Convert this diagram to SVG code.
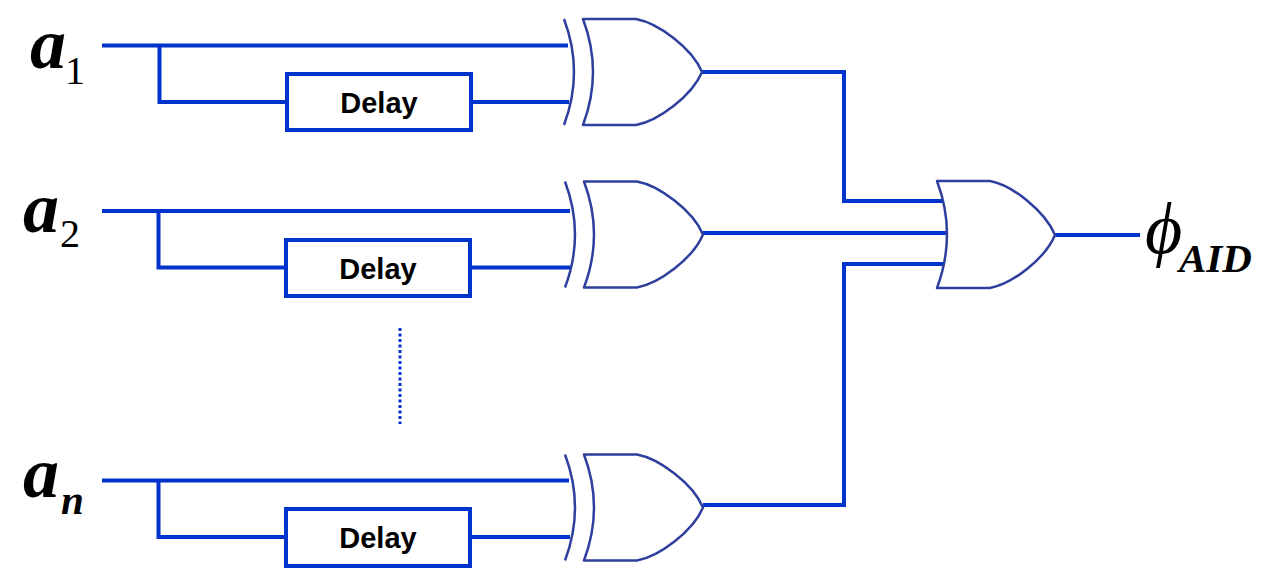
<svg xmlns="http://www.w3.org/2000/svg" width="1264" height="585" viewBox="0 0 1264 585">
<style>
.w{fill:none;stroke:#0033cc;stroke-width:4}
.g{fill:none;stroke:#2e3f9e;stroke-width:2.500;stroke-linejoin:round}
.b{fill:#fff;stroke:#0033cc;stroke-width:4}
.d{font:bold 29px "Liberation Sans",Arial,sans-serif;fill:#000;text-anchor:middle}
.a{font:italic bold 72px "Liberation Serif","Times New Roman",serif;fill:#000}
.s{font:40px "Liberation Serif","Times New Roman",serif;fill:#000}
.si{font:italic bold 41px "Liberation Serif","Times New Roman",serif;fill:#000}
</style>
<defs>
<path id="xor" class="g" d="M564 19Q584 72 564 125M583 19Q603 72 583 125H636C658 121 692 96 702 72C692 48 658 23 636 19Z"/>
</defs>
<g id="connectors">
<path class="w" d="M102 45.500H568M159.500 45.500V102H287M471 102H569"/>
<path class="w" d="M102 211H570M158.500 211V267.500H286M470 267.500H570"/>
<path class="w" d="M102 480.500H569M158.500 480.500V537H286M470 537H570"/>
<path class="w" d="M702 72H844V201H943M703 233H946M703 505H844V264H943M1055 235H1140"/>
<path fill="none" stroke="#0033cc" stroke-width="3" stroke-dasharray="3 2.500" d="M400 328V424"/>
</g>
<g id="input-a1"><text class="a" x="30" y="68">a</text><text class="s" x="65" y="84">1</text></g>
<g id="input-a2"><text class="a" x="23" y="232">a</text><text class="s" x="60" y="247">2</text></g>
<g id="input-an"><text class="a" x="23" y="497">a</text><text class="si" x="61" y="514">n</text></g>
<g id="delay-1"><rect class="b" x="287" y="74" width="184" height="56"/><text class="d" x="379" y="113">Delay</text></g>
<g id="delay-2"><rect class="b" x="286" y="240" width="184" height="56"/><text class="d" x="378" y="279">Delay</text></g>
<g id="delay-n"><rect class="b" x="286" y="509" width="184" height="57"/><text class="d" x="378" y="548">Delay</text></g>
<g id="xor-1"><use href="#xor"/></g>
<g id="xor-2"><use href="#xor" transform="translate(1 162.500)"/></g>
<g id="xor-n"><use href="#xor" transform="translate(1 435.500)"/></g>
<g id="or-out"><path class="g" d="M937 181Q957 234 937 288H990C1012 284 1045 259 1055 235C1045 211 1012 185 990 181Z"/></g>
<g id="output"><text x="1145" y="253" font-family="Liberation Serif,Times New Roman,serif" font-style="italic" font-size="72" fill="#000">ϕ</text><text class="si" x="1179" y="272">AID</text></g>
</svg>
